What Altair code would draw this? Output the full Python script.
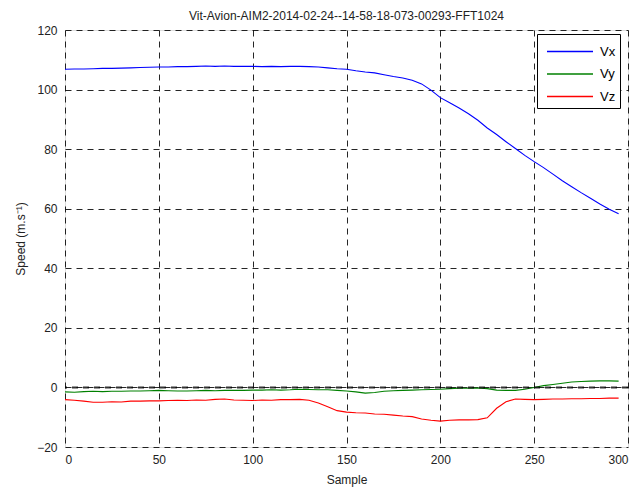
import altair as alt
import pandas as pd

samples = [0, 5, 10, 15, 20, 25, 30, 35, 40, 45, 50, 55, 60, 65, 70, 75, 80, 85, 90, 95,
           100, 105, 110, 115, 120, 125, 130, 135, 140, 145, 150, 155, 160, 165, 170, 175,
           180, 185, 190, 195, 200, 205, 210, 215, 220, 225, 230, 235, 240, 245, 250, 255,
           260, 265, 270, 275, 280, 285, 290, 295]

vx = [106.8, 106.9, 106.9, 107.0, 107.1, 107.1, 107.2, 107.3, 107.4, 107.5, 107.6, 107.6,
      107.7, 107.7, 107.8, 107.9, 107.8, 107.9, 107.8, 107.8, 107.8, 107.7, 107.8, 107.7,
      107.8, 107.8, 107.7, 107.6, 107.3, 107.0, 106.8, 106.3, 105.9, 105.6, 105.0, 104.4,
      103.9, 103.1, 101.9, 99.8, 97.3, 95.6, 93.8, 91.9, 89.7, 87.1, 84.9, 82.5, 80.2,
      77.9, 75.8, 73.8, 71.6, 69.4, 67.4, 65.4, 63.5, 61.6, 59.8, 58.3]

vy = [-1.5, -1.6, -1.4, -1.3, -1.4, -1.3, -1.3, -1.2, -1.2, -1.1, -1.0, -1.1, -1.2, -1.2,
      -1.1, -1.0, -1.1, -1.0, -1.0, -1.0, -0.9, -0.9, -0.8, -0.9, -0.8, -0.6, -0.7, -0.8,
      -0.8, -1.0, -1.2, -1.5, -1.9, -1.7, -1.3, -1.1, -1.0, -0.9, -0.8, -0.7, -0.6, -0.4,
      -0.3, -0.3, -0.2, -0.4, -0.9, -1.0, -1.0, -0.6, 0.0, 0.6, 1.0, 1.4, 1.8, 2.0, 2.1,
      2.2, 2.2, 2.1]

vz = [-4.1, -4.3, -4.6, -5.0, -5.0, -4.8, -4.9, -4.6, -4.6, -4.5, -4.5, -4.4, -4.3, -4.4,
      -4.2, -4.3, -4.0, -3.9, -4.2, -4.3, -4.4, -4.2, -4.3, -4.1, -4.1, -4.0, -4.3, -5.2,
      -6.5, -7.8, -8.3, -8.5, -8.6, -8.9, -9.0, -9.3, -9.6, -9.8, -10.6, -11.0, -11.3,
      -11.0, -10.9, -10.9, -10.8, -10.2, -7.0, -4.8, -3.9, -4.0, -4.1, -4.0, -3.9, -3.9,
      -3.8, -3.8, -3.7, -3.7, -3.6, -3.6]

series_names = ["Vx", "Vy", "Vz"]
series_colors = ["#0000ff", "#008000", "#ff0000"]
x_ticks = [0, 50, 100, 150, 200, 250, 300]
y_ticks = [-20, 0, 20, 40, 60, 80, 100, 120]
zero_line = [0]

rows = []
for name, vals in zip(series_names, [vx, vy, vz]):
    for s, v in zip(samples, vals):
        rows.append({"Sample": s, "Speed": v, "series": name})
df = pd.DataFrame(rows)
zdf = pd.DataFrame({"Speed": zero_line})

font = "Liberation Sans"

x_enc = alt.X("Sample:Q",
              scale=alt.Scale(domain=[0, 300], nice=False),
              axis=alt.Axis(values=x_ticks, title="Sample", grid=True,
                            gridDash=[6, 5], gridColor="#000000", gridOpacity=0.85,
                            tickSize=0, labelPadding=7, titlePadding=9,
                            domain=False, labelFontSize=12, titleFontSize=12,
                            titleFontWeight="normal", labelColor="#222",
                            titleColor="#222"))
y_enc = alt.Y("Speed:Q",
              scale=alt.Scale(domain=[-20, 120], nice=False),
              axis=alt.Axis(values=y_ticks, title="Speed (m.s⁻¹)", grid=True,
                            gridDash=[6, 5], gridColor="#000000", gridOpacity=0.85,
                            tickSize=0, labelPadding=8, titlePadding=9,
                            domain=False, labelFontSize=12, titleFontSize=12,
                            titleFontWeight="normal", labelColor="#222",
                            titleColor="#222"))

zero = (
    alt.Chart(zdf)
    .mark_rule(strokeDash=[6, 5], strokeWidth=2, color="#000000", opacity=0.8)
    .encode(y=alt.Y("Speed:Q", scale=alt.Scale(domain=[-20, 120], nice=False)))
)

lines = (
    alt.Chart(df)
    .mark_line(strokeWidth=1.1)
    .encode(
        x=x_enc,
        y=y_enc,
        color=alt.Color("series:N",
                        scale=alt.Scale(domain=series_names, range=series_colors),
                        title=None,
                        legend=alt.Legend(orient="none", legendX=472, legendY=4,
                                          symbolType="M-0.6,0L3.08,0", symbolSize=625,
                                          symbolStrokeWidth=1.5, labelFontSize=13,
                                          labelFont=font, rowPadding=1.5,
                                          padding=4, strokeColor="#000000",
                                          fillColor="#ffffff", labelOffset=32)),
        order=alt.Order("Sample:Q"),
    )
)

chart = (
    alt.layer(lines, zero)
    .properties(
        width=563, height=417,
        title=alt.TitleParams("Vit-Avion-AIM2-2014-02-24--14-58-18-073-00293-FFT1024",
                              fontSize=12, fontWeight="normal", font=font,
                              color="#222", offset=1),
        autosize=alt.AutoSizeParams(type="none"),
        padding={"left": 65, "top": 30, "right": 16, "bottom": 41},
    )
    .configure_view(stroke="#000000", strokeWidth=1.5)
    .configure_axis(labelFont=font, titleFont=font)
    .configure_legend(strokeWidth=1.2)
    .configure(background="#ffffff")
)

chart.save("out.html", embed_options={"renderer": "svg", "actions": False})
